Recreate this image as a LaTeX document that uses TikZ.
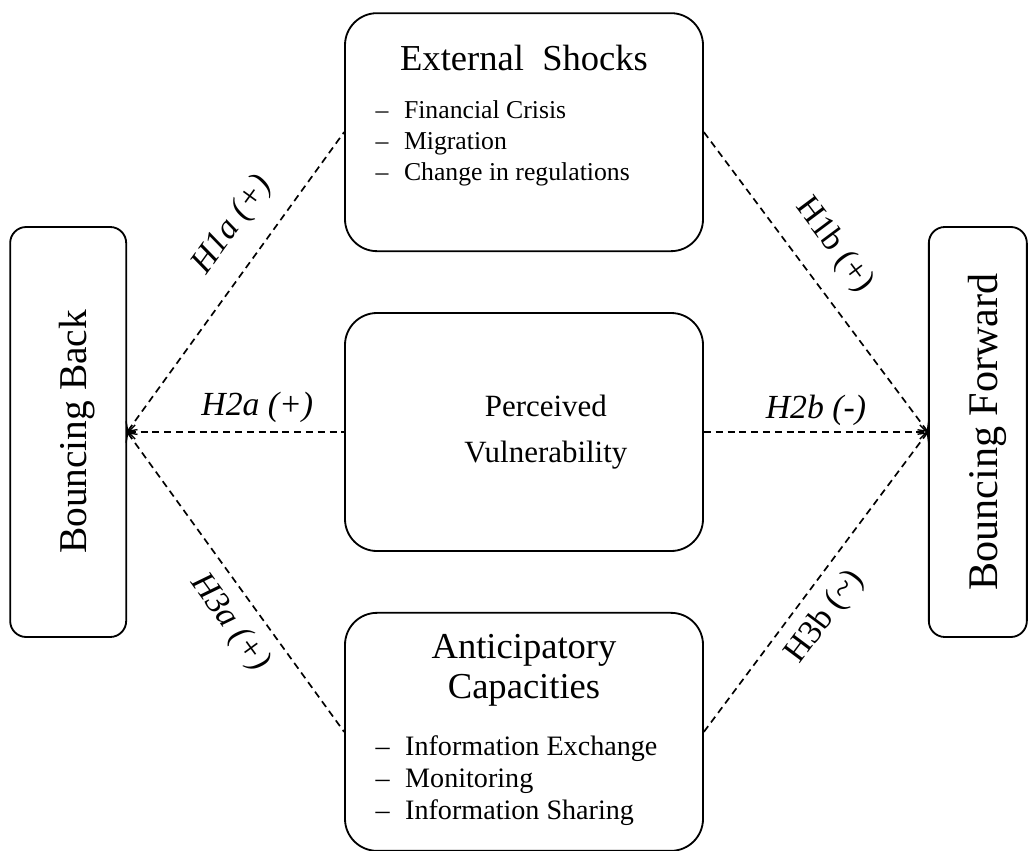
\documentclass[tikz,border=0pt]{standalone}
\usepackage{fontspec}
\setmainfont{Liberation Serif}
\usepackage{tikz}
\usetikzlibrary{arrows.meta,positioning}

\newcommand{\headfont}{\fontsize{26}{28.3}\selectfont}
\newcommand{\esitemfont}{\fontsize{18.3}{22}\selectfont}
\newcommand{\acitemfont}{\fontsize{20}{23}\selectfont}

\begin{document}
\begin{tikzpicture}[
    node distance=1.5cm,
    box/.style={rectangle, draw, line width=1.3pt, rounded corners=0.8cm, minimum width=8.95cm, minimum height=5.95cm, align=center, inner sep=0pt},
    side/.style={rectangle, draw, line width=1.3pt, rounded corners=0.4cm, minimum height=10.25cm, inner sep=0pt},
    link/.style={dash pattern=on 5pt off 3.4pt, line width=1.2pt, >={Straight Barb[length=5pt,width=10pt,line width=1pt]}},
    hyp/.style={sloped, inner sep=2pt, font=\fontsize{24}{28}\selectfont}
]
    \useasboundingbox (0,0) rectangle (25.7,-21.25);

    \node[box, font=\fontsize{22}{26}\selectfont] (pv) at (13.1,-10.8) {\hspace*{31pt}Perceived\\[7pt]\hspace*{31pt}Vulnerability};
    \node[box, above=of pv, font=\esitemfont] (es) {{\headfont External\ \ Shocks}\\[12.3pt]
        \makebox[211pt][l]{\begin{tabular}[t]{@{}l@{\hspace{11pt}}l@{}}
        -- & Financial Crisis\\
        -- & Migration\\
        -- & Change in regulations
        \end{tabular}}\\[19.7pt]\mbox{}};
    \node[box, below=of pv, font=\headfont] (ac) {Anticipatory\\Capacities\\[12.3pt]
        \makebox[211pt][l]{\acitemfont\begin{tabular}[t]{@{}l@{\hspace{11pt}}l@{}}
        -- & Information Exchange\\
        -- & Monitoring\\
        -- & Information Sharing
        \end{tabular}}};
    \node[side, minimum width=2.9cm, left=5.425cm of pv, font=\fontsize{28}{32}\selectfont] (bb) {\hspace*{12pt}\rotatebox{90}{Bouncing Back}};
    \node[side, minimum width=2.45cm, right=5.6cm of pv, font=\fontsize{30}{34}\selectfont] (bf) {\hspace*{13pt}\rotatebox{90}{Bouncing Forward}};

    \draw[link, <-] (bb.east) -- node[hyp, above=12pt, pos=0.62] {\itshape H1a (+)} (es.west);
    \draw[link, <-] (bb.east) -- node[hyp, above=4pt, pos=0.6] {\itshape H2a (+)} (pv.west);
    \draw[link, <-] (bb.east) -- node[hyp, below=7pt, pos=0.58] {\itshape H3a (+)} (ac.west);
    \draw[link, ->] (es.east) -- node[hyp, above=12.5pt, pos=0.45] {H1b (+)} (bf.west);
    \draw[link, ->] (pv.east) -- node[hyp, above=2pt, pos=0.5] {\itshape H2b (-)} (bf.west);
    \draw[link, ->] (ac.east) -- node[hyp, below=7pt, pos=0.44] {H3b (\textasciitilde)} (bf.west);
\end{tikzpicture}
\end{document}
